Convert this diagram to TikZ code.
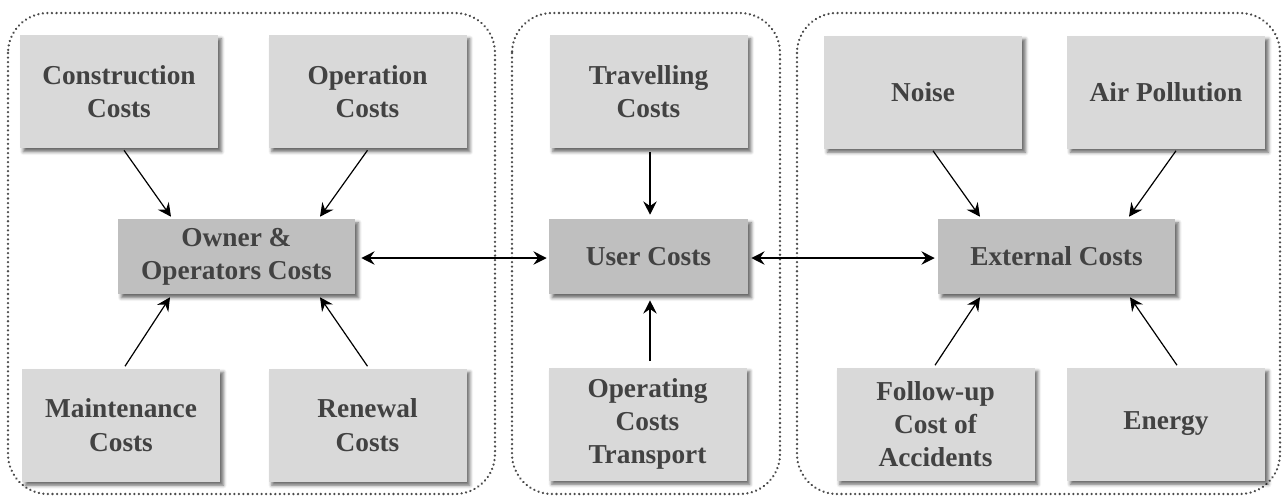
\documentclass[tikz,border=0pt]{standalone}
\usepackage{fontspec}
\setmainfont{Liberation Serif}
\usetikzlibrary{arrows.meta,shadows.blur}
\definecolor{boxlight}{HTML}{D9D9D9}
\definecolor{boxdark}{HTML}{BFBFBF}
\definecolor{labelgray}{HTML}{424242}
\definecolor{framegray}{HTML}{4A4A4A}
\tikzset{
  costbox/.style={draw=none, fill=boxlight, minimum width=148.5pt, minimum height=84.75pt,
    align=center, inner sep=0pt, text=labelgray,
    font=\fontsize{20.5}{25}\selectfont\bfseries,
    blur shadow={shadow xshift=2.5pt, shadow yshift=-2.8pt, shadow blur radius=2.5pt, shadow opacity=60}},
  hubbox/.style={costbox, fill=boxdark, minimum height=56.25pt},
  groupframe/.style={draw=framegray, line width=1.9pt, line cap=round,
    dash pattern=on 0.01pt off 3.4pt, rounded corners=30pt},
  arr/.style={line width=0.9pt, -{Stealth[length=10pt, width=10pt, inset=3.5pt]}},
  biarr/.style={line width=0.9pt, {Stealth[length=10pt, width=10pt, inset=3.5pt]}-{Stealth[length=10pt, width=10pt, inset=3.5pt]}}
}
\begin{document}
\begin{tikzpicture}[x=0.75pt, y=-0.75pt]
\useasboundingbox (0,0) rectangle (1283,501);

% dotted group frames
\draw[groupframe] (8,13) rectangle (495,494);
\draw[groupframe] (512,13) rectangle (780,494);
\draw[groupframe] (797,13) rectangle (1280,494);

% owner and operators group
\node[costbox] (con) at (119,91.5) {Construction\\Costs};
\node[costbox] (opc) at (367.5,91.5) {Operation\\Costs};
\node[hubbox, minimum width=177.75pt] (own) at (236.5,256.5) {Owner \&\\Operators Costs};
\node[costbox] (mai) at (121,425) {Maintenance\\Costs};
\node[costbox] (ren) at (367.5,425) {Renewal\\Costs};

% user group
\node[costbox] (trv) at (648.5,91.5) {Travelling\\Costs};
\node[hubbox, minimum width=149.25pt] (usr) at (648.5,256.5) {User Costs};
\node[costbox] (opt) at (647.5,424) {Operating\\Costs\\Transport};

% external group
\node[costbox] (noi) at (923,92) {Noise};
\node[costbox] (air) at (1166,92) {Air Pollution};
\node[hubbox, minimum width=177.75pt] (ext) at (1056.5,256.5) {External Costs};
\node[costbox] (fol) at (935.5,424) {Follow-up\\Cost of\\Accidents};
\node[costbox] (ene) at (1166,424) {Energy};

% contributions to the hub costs
\draw[arr] ([shift={(5,2)}]con.south) -- ([shift={(-65.5,-2)}]own.north);
\draw[arr] ([shift={(0,2)}]opc.south) -- ([shift={(83.5,-2)}]own.north);
\draw[arr] ([shift={(4,-2)}]mai.north) -- ([shift={(-66.5,3)}]own.south);
\draw[arr] ([shift={(0,-2)}]ren.north) -- ([shift={(83.5,3)}]own.south);

\draw[arr] ([shift={(1.5,4)}]trv.south) -- ([shift={(1.5,-4)}]usr.north);
\draw[arr] ([shift={(2.5,-6)}]opt.north) -- ([shift={(1.5,6)}]usr.south);

\draw[arr] ([shift={(10,2)}]noi.south) -- ([shift={(-76.5,-2)}]ext.north);
\draw[arr] ([shift={(10,2)}]air.south) -- ([shift={(72.5,-2)}]ext.north);
\draw[arr] ([shift={(-0.5,-2)}]fol.north) -- ([shift={(-76.5,3)}]ext.south);
\draw[arr] ([shift={(11,-2)}]ene.north) -- ([shift={(73.5,3)}]ext.south);

% links between the hubs
\draw[biarr] ([shift={(6,1.5)}]own.east) -- ([shift={(-2,1.5)}]usr.west);
\draw[biarr] ([shift={(3,1.5)}]usr.east) -- ([shift={(-3,1.5)}]ext.west);
\end{tikzpicture}
\end{document}
